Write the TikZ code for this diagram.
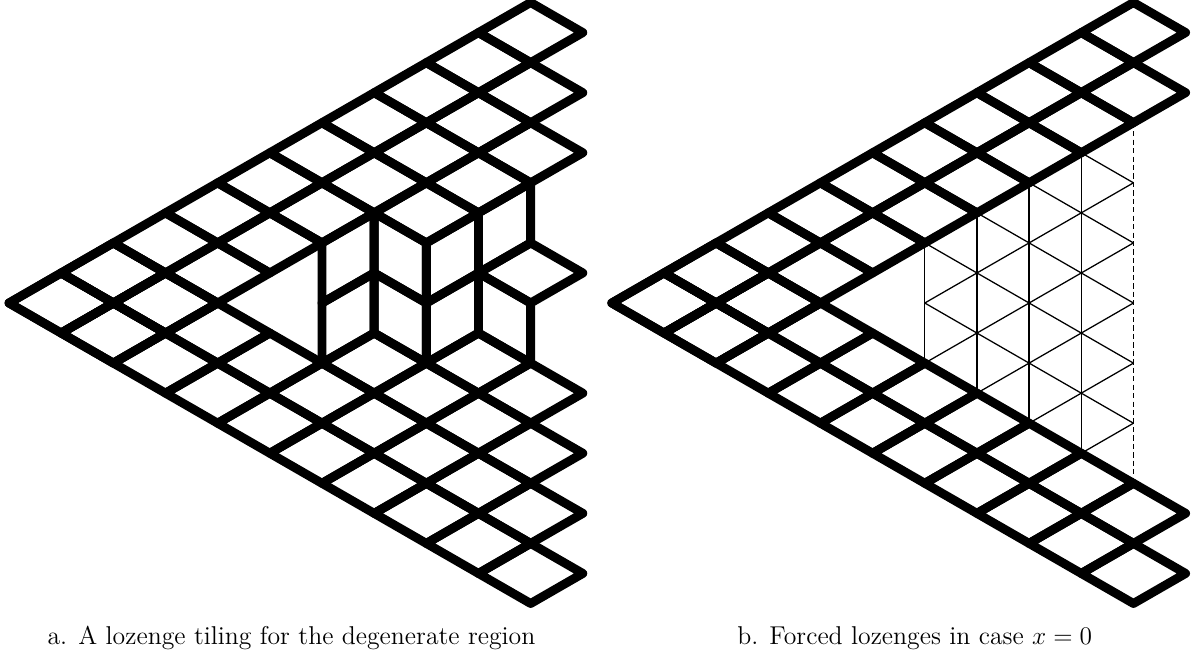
\documentclass[tikz,border=0pt]{standalone}
\usepackage{tikz}
\usetikzlibrary{positioning}

% lozenges: H has a horizontal long diagonal, U and D have vertical sides
\newcommand{\hloz}[2]{\draw[loz] ({#1},{#2}) -- ++(1,0.5) -- ++(1,-0.5) -- ++(-1,-0.5) -- cycle;}
\newcommand{\uloz}[2]{\draw[loz] ({#1},{#2}) -- ++(1,0.5) -- ++(0,1) -- ++(-1,-0.5) -- cycle;}
\newcommand{\dloz}[2]{\draw[loz] ({#1},{#2}) -- ++(1,-0.5) -- ++(0,-1) -- ++(-1,0.5) -- cycle;}
% the two forced strips along the upper and lower sides
\newcommand{\forcedarms}{%
  \foreach \i in {0,...,9} {\hloz{\i}{\i/2} \hloz{\i}{-\i/2}}
  \foreach \i in {0,...,8} {\hloz{\i+1}{(\i-1)/2} \hloz{\i+1}{(1-\i)/2}}}

\begin{document}
\begin{tikzpicture}[loz/.style={line width=4.2pt,line join=round,line cap=round},
                    grid/.style={line width=0.6pt},
                    rim/.style={line width=0.6pt,dash pattern=on 2.5pt off 1.5pt},
                    capt/.style={font=\fontsize{12.2}{15}\selectfont,anchor=base}]
    \useasboundingbox (-0.15,-5.874) rectangle (19.834,5.042);

    % a. the full tiling
    \begin{scope}[x=0.868cm,y=1cm]
        \forcedarms
        \foreach \c/\h in {7/1.5, 8/2, 9/2.5, 9/0.5, 6/-1, 7/-1.5, 8/-1, 8/-2, 9/-1.5, 9/-2.5}
            \hloz{\c}{\h};
        \foreach \c/\h in {6/0, 6/-1, 8/0, 8/-1, 9/0.5}
            \uloz{\c}{\h};
        \foreach \c/\h in {7/1.5, 7/0.5, 9/0.5}
            \dloz{\c}{\h};
    \end{scope}

    % b. forced lozenges, free part left as a triangular grid
    \begin{scope}[xshift=10.03cm,x=0.868cm,y=1cm]
        \foreach \c in {6,...,9}
            \draw[grid] (\c,{-(\c-4)/2}) -- (\c,{(\c-4)/2});
        \foreach \c/\h in {6/0, 6/-1, 7/-1.5, 8/-2, 9/-2.5} {
            \draw[grid] (\c,\h) -- (10,{\h+(10-\c)/2});
            \draw[grid] (\c,-\h) -- (10,{-\h-(10-\c)/2});
        }
        \draw[rim] (10,3) -- (10,-3);
        \forcedarms
    \end{scope}

    \node[capt] (capa) at (4.70,-5.69) {a. A lozenge tiling for the degenerate region};
    \node[capt] (capb) at (15.07,-5.69) {b. Forced lozenges in case $x=0$};
\end{tikzpicture}
\end{document}
